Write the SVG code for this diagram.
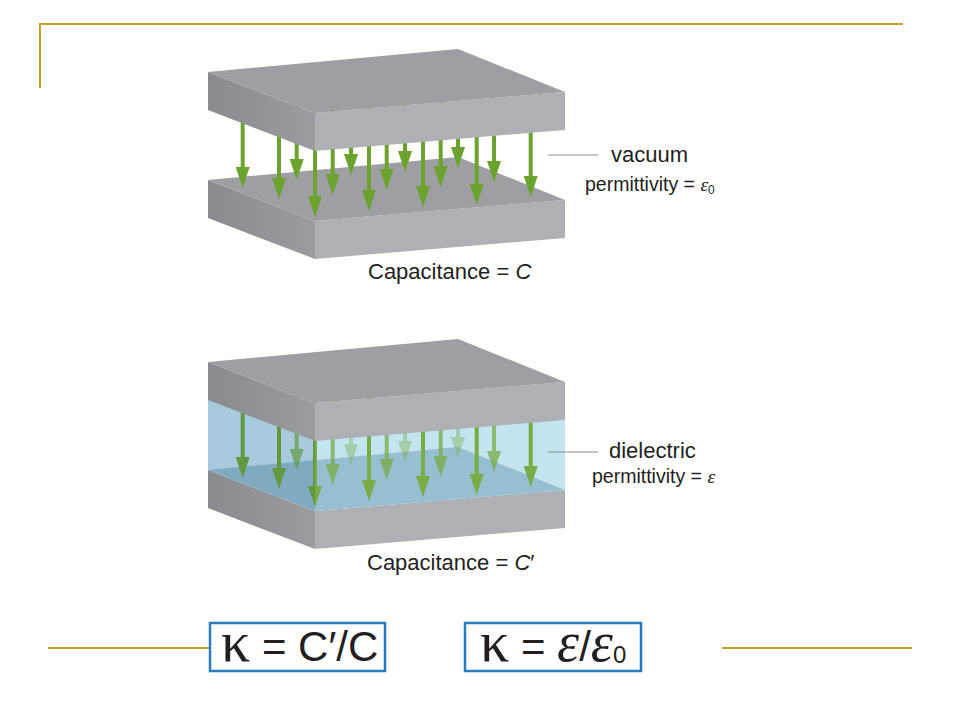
<svg xmlns="http://www.w3.org/2000/svg" width="960" height="720" viewBox="0 0 960 720">
  <defs>
    <style>
      .top{fill:#9d9fa2}
      .left{fill:url(#leftGrad)}
      .front{fill:#aeb0b3}
      .fl{stroke:#6ba32e;stroke-width:4;marker-end:url(#ah)}
      .gold{stroke:#c9a227;stroke-width:2;fill:none}
      .lead{stroke:#8a8a8a;stroke-width:1}
      .lbl{font-family:"Liberation Sans",Arial,sans-serif;fill:#231f20}
      .box{fill:#fff;stroke:#2a7bbf;stroke-width:2.5}
      .gk{font-family:"Liberation Serif","DejaVu Serif",serif}
    </style>
    <linearGradient id="leftGrad" x1="0" y1="0" x2="1" y2="0">
      <stop offset="0" stop-color="#898b8e"/>
      <stop offset="1" stop-color="#9a9c9f"/>
    </linearGradient>
    <marker id="ah" viewBox="0 0 21 14" refX="0" refY="7" markerWidth="21" markerHeight="14" markerUnits="userSpaceOnUse" orient="auto">
      <path d="M0,0 L21,7 L0,14 Z" fill="#6ba32e"/>
    </marker>
  </defs>

  <rect width="960" height="720" fill="#fff"/>

  <!-- decorative gold rules -->
  <g id="frame">
    <path class="gold" d="M40,88 V24 H903"/>
    <path class="gold" d="M48,648 H210"/>
    <path class="gold" d="M722,648 H912"/>
  </g>

  <!-- capacitor with vacuum -->
  <g id="capacitor-vacuum">
    <g id="vac-bottom-plate">
      <polygon class="left" points="208,180 315,221 315,259 208,218"/>
      <polygon class="front" points="315,221 565,200 565,238 315,259"/>
      <polygon class="top" points="208,180 458,157 565,200 315,221"/>
    </g>
    <g id="vac-field">
      <line class="fl" x1="242.7" y1="100" x2="242.7" y2="167"/>
      <line class="fl" x1="279" y1="100" x2="279" y2="178"/>
      <line class="fl" x1="296.7" y1="100" x2="296.7" y2="159"/>
      <line class="fl" x1="315" y1="100" x2="315" y2="196"/>
      <line class="fl" x1="332.7" y1="100" x2="332.7" y2="174"/>
      <line class="fl" x1="351" y1="100" x2="351" y2="154"/>
      <line class="fl" x1="369" y1="100" x2="369" y2="190"/>
      <line class="fl" x1="386.7" y1="100" x2="386.7" y2="169"/>
      <line class="fl" x1="405" y1="100" x2="405" y2="151"/>
      <line class="fl" x1="423" y1="100" x2="423" y2="186"/>
      <line class="fl" x1="440.7" y1="100" x2="440.7" y2="166"/>
      <line class="fl" x1="458" y1="100" x2="458" y2="147"/>
      <line class="fl" x1="476.7" y1="100" x2="476.7" y2="184"/>
      <line class="fl" x1="494" y1="100" x2="494" y2="161"/>
      <line class="fl" x1="530.7" y1="100" x2="530.7" y2="176"/>
    </g>
    <g id="vac-top-plate">
      <polygon class="left" points="208,72 315,113 315,151 208,110"/>
      <polygon class="front" points="315,113 565,92 565,130 315,151"/>
      <polygon class="top" points="208,72 458,49 565,92 315,113"/>
    </g>
  </g>

  <!-- capacitor with dielectric -->
  <g id="capacitor-dielectric" transform="translate(0,290)">
    <g id="die-bottom-plate">
      <polygon class="left" points="208,180 315,221 315,259 208,218"/>
      <polygon class="front" points="315,221 565,200 565,238 315,259"/>
    </g>
    <polygon id="dielectric-back" points="208,105 315,145 565,125 565,200 315,221 208,180" fill="#c2e3f0"/>
    <polygon points="208,180 458,157 565,200 315,221" fill="#90b9cc"/>
    <g id="die-field">
      <line class="fl" x1="242.7" y1="100" x2="242.7" y2="167"/>
      <line class="fl" x1="279" y1="100" x2="279" y2="178"/>
      <g opacity="0.7"><line class="fl" x1="296.7" y1="100" x2="296.7" y2="159"/></g>
      <line class="fl" x1="315" y1="100" x2="315" y2="196"/>
      <g opacity="0.75"><line class="fl" x1="332.7" y1="100" x2="332.7" y2="174"/></g>
      <g opacity="0.4"><line class="fl" x1="351" y1="100" x2="351" y2="154"/></g>
      <line class="fl" x1="369" y1="100" x2="369" y2="190"/>
      <g opacity="0.75"><line class="fl" x1="386.7" y1="100" x2="386.7" y2="169"/></g>
      <g opacity="0.4"><line class="fl" x1="405" y1="100" x2="405" y2="151"/></g>
      <line class="fl" x1="423" y1="100" x2="423" y2="186"/>
      <g opacity="0.75"><line class="fl" x1="440.7" y1="100" x2="440.7" y2="166"/></g>
      <g opacity="0.4"><line class="fl" x1="458" y1="100" x2="458" y2="147"/></g>
      <line class="fl" x1="476.7" y1="100" x2="476.7" y2="184"/>
      <g opacity="0.75"><line class="fl" x1="494" y1="100" x2="494" y2="161"/></g>
      <line class="fl" x1="530.7" y1="100" x2="530.7" y2="176"/>
    </g>
    <polygon id="dielectric-left" points="208,110 315,151 315,221 208,180" fill="#3d6f8a" opacity="0.2"/>
    <polygon id="dielectric-front" points="315,151 565,130 565,200 315,221" fill="#d8eef7" opacity="0.12"/>
    <g id="die-top-plate">
      <polygon class="left" points="208,72 315,113 315,151 208,110"/>
      <polygon class="front" points="315,113 565,92 565,130 315,151"/>
      <polygon class="top" points="208,72 458,49 565,92 315,113"/>
    </g>
  </g>

  <!-- leader lines -->
  <g id="connectors">
    <line class="lead" x1="548" y1="155" x2="598" y2="155"/>
    <line class="lead" x1="548" y1="452" x2="598" y2="452"/>
  </g>

  <!-- labels -->
  <g id="label-vacuum">
    <text class="lbl" x="611" y="162" font-size="22">vacuum</text>
    <text class="lbl" x="585" y="191" font-size="19.5">permittivity = <tspan class="gk" font-style="italic">ε</tspan><tspan font-size="12" dy="3">0</tspan></text>
  </g>
  <g id="label-cap-c">
    <text class="lbl" x="368" y="279" font-size="22">Capacitance = <tspan font-style="italic">C</tspan></text>
  </g>
  <g id="label-dielectric">
    <text class="lbl" x="609" y="458" font-size="22">dielectric</text>
    <text class="lbl" x="592" y="483" font-size="19.5">permittivity = <tspan class="gk" font-style="italic">ε</tspan></text>
  </g>
  <g id="label-cap-cprime">
    <text class="lbl" x="367" y="570" font-size="22">Capacitance = <tspan font-style="italic">C</tspan>′</text>
  </g>

  <!-- formulas -->
  <g id="formula-1">
    <rect class="box" x="210" y="623" width="175" height="48"/>
    <text class="lbl" x="221" y="661" font-size="42"><tspan class="gk" font-size="58">κ</tspan> = C′/C</text>
  </g>
  <g id="formula-2">
    <rect class="box" x="465" y="623" width="176" height="48"/>
    <text class="lbl" x="480" y="661" font-size="42"><tspan class="gk" font-size="58">κ</tspan> = <tspan class="gk" font-size="56" font-style="italic">ε</tspan>/<tspan class="gk" font-size="56" font-style="italic">ε</tspan><tspan font-size="24" dy="2">0</tspan></text>
  </g>
</svg>
